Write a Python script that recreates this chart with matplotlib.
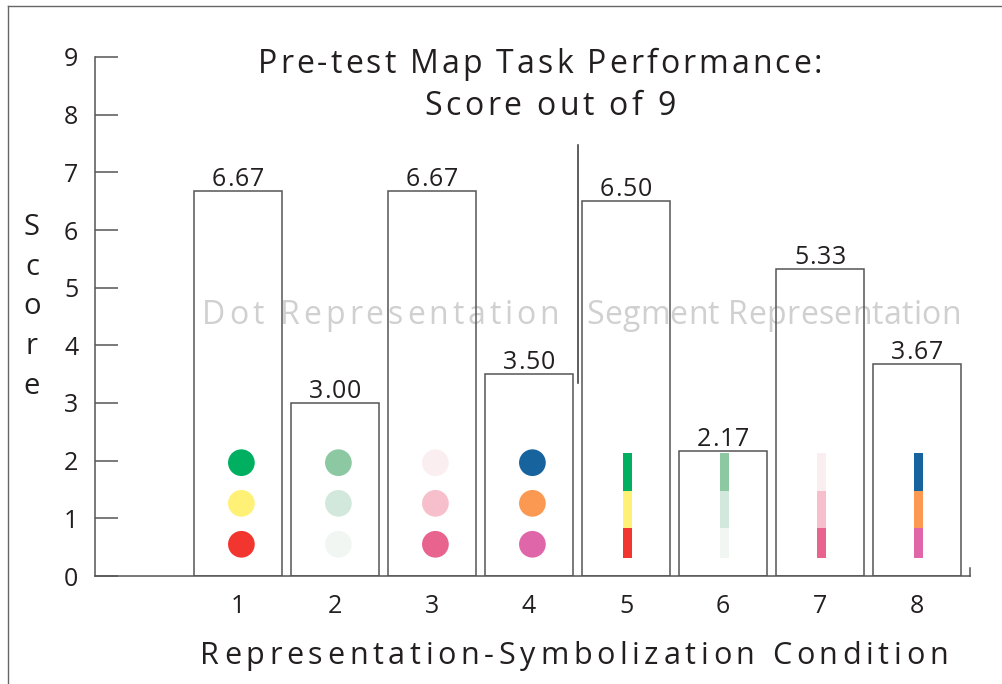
import matplotlib.pyplot as plt
from matplotlib.font_manager import FontProperties, findfont, get_font
from matplotlib.transforms import offset_copy

plt.rcParams['font.family'] = ['Open Sans', 'DejaVu Sans']

# data
conditions = [1, 2, 3, 4, 5, 6, 7, 8]
scores = [6.67, 3.00, 6.67, 3.50, 6.50, 2.17, 5.33, 3.67]
group_names = ['Dot Representation', 'Segment Representation']
dot_conditions = [1, 2, 3, 4]
segment_conditions = [5, 6, 7, 8]

# colour schemes, top / middle / bottom
schemes = [
    ['#00b060', '#fff176', '#f2352f'],
    ['#8cc8a2', '#d3e8dc', '#f1f6f3'],
    ['#fbeef0', '#f7bfcb', '#e8638d'],
    ['#17639e', '#fb9852', '#e066aa'],
]
dot_levels = [1.965, 1.26, 0.55]
segment_edges = [2.14, 1.47, 0.84, 0.31]

EDGE = '#555555'
TEXT = '#231f20'
W, H = 1002, 684

fig = plt.figure(figsize=(W / 100, H / 100), dpi=100)
ax = fig.add_axes([95 / W, 1 - 576 / H, (970 - 95) / W, (576 - 57) / H])
ax.set_xlim(-0.474, 8.546)
ax.set_ylim(0, 9)


def tracked_text(target, x, y, s, size, track, color, transform, dy=0, zorder=5):
    # draw s centred on (x, y) with extra letter spacing (pixels), baseline at y
    font = get_font(findfont(FontProperties(family='Open Sans', size=size)))
    font.set_size(size, 100)
    adv = [font.load_char(ord(c)).linearHoriAdvance / 65536 for c in s]
    pos = -(sum(adv) + track * (len(s) - 1)) / 2
    for c, a in zip(s, adv):
        tr = offset_copy(transform, fig=fig, x=pos, y=dy, units='dots')
        target.text(x, y, c, transform=tr, ha='left', va='baseline',
                    fontsize=size, color=color, zorder=zorder)
        pos += a + track


# bar fills first, outlines on top so the group labels sit between them
ax.bar(conditions, scores, width=0.9, color='white', edgecolor='none', zorder=1)
ax.bar(conditions, scores, width=0.9, color='none', edgecolor=EDGE,
       linewidth=1.1, zorder=4)

for x, s in zip(conditions, scores):
    tracked_text(ax, x, s, f'{s:.2f}', 18, 0.8, TEXT, ax.transData, dy=5)

# symbol samples
for i, x in enumerate(dot_conditions):
    ax.scatter([x + 0.035] * 3, dot_levels, s=370, c=schemes[i],
               edgecolors='none', zorder=3)
for i, x in enumerate(segment_conditions):
    for j in range(3):
        top, bot = segment_edges[j], segment_edges[j + 1]
        ax.bar(x + 0.02, top - bot, bottom=bot, width=0.093,
               color=schemes[i][j], edgecolor='none', zorder=3)

# group labels and divider
dot_mid = (dot_conditions[0] + dot_conditions[-1]) / 2
seg_mid = (segment_conditions[0] + segment_conditions[-1]) / 2
tracked_text(ax, dot_mid - 0.03, 4.37, group_names[0], 23, 3.9, '#d0d0d0',
             ax.transData, zorder=2)
tracked_text(ax, seg_mid + 0.02, 4.37, group_names[1], 23, 0.3, '#d0d0d0',
             ax.transData, zorder=2)
boundary = (dot_conditions[-1] + segment_conditions[0]) / 2
ax.plot([boundary, boundary], [3.35, 7.47], color='#333333', lw=1.1, zorder=4)

# axes styling
ax.spines['top'].set_visible(False)
ax.spines['right'].set_bounds(0, 0.14)
for side in ['left', 'bottom', 'right']:
    ax.spines[side].set_color(EDGE)
    ax.spines[side].set_linewidth(1.1)

ax.set_yticks(range(10))
ax.tick_params(axis='y', direction='in', length=16.5, width=1.1, color=EDGE,
               pad=12, labelsize=18, labelcolor=TEXT)
ax.set_xticks(conditions)
ax.tick_params(axis='x', length=0, pad=13, labelsize=18, labelcolor=TEXT)

tracked_text(fig, 574 / W, 1 - 664 / H, 'Representation-Symbolization Condition',
             22, 4.7, TEXT, fig.transFigure)

for k, ch in enumerate('Score'):
    fig.text(32 / W, 1 - (228 + 39.5 * k) / H, ch, ha='center',
             va='center', fontsize=21, color=TEXT)

tracked_text(fig, 540 / W, 1 - 73 / H, 'Pre-test Map Task Performance:',
             23, 3.0, TEXT, fig.transFigure)
tracked_text(fig, 550 / W, 1 - 115 / H, 'Score out of 9',
             23, 3.4, TEXT, fig.transFigure)

# frame lines along the top and left of the figure
fig.add_artist(plt.Line2D([8 / W, 8 / W], [0, 1 - 6 / H], color='#666666', lw=1.0))
fig.add_artist(plt.Line2D([8 / W, 1], [1 - 6 / H, 1 - 6 / H], color='#666666', lw=1.0))

fig.savefig('out.png', dpi=100)
